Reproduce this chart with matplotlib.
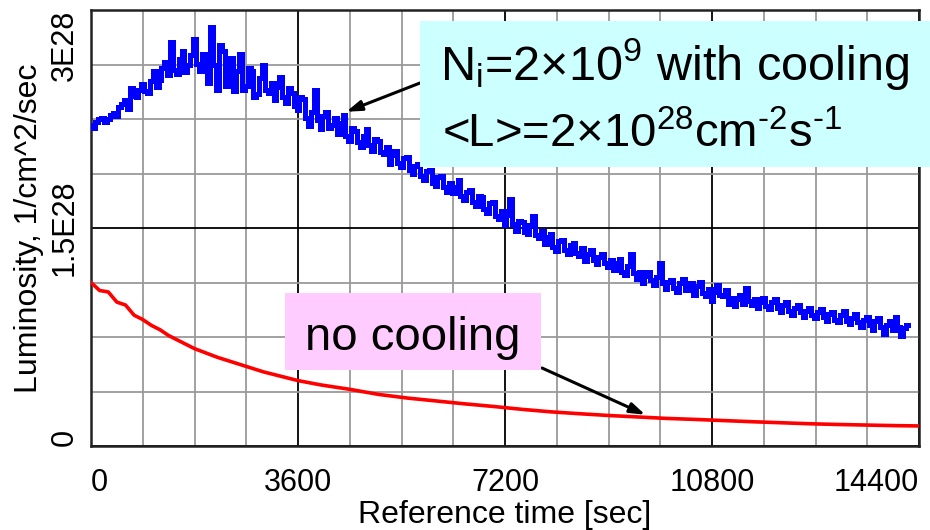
import numpy as np
import matplotlib
matplotlib.use("Agg")
import matplotlib.pyplot as plt
from matplotlib.patches import Rectangle

plt.rcParams['font.family'] = ['Liberation Sans', 'DejaVu Sans']
plt.rcParams['mathtext.fontset'] = 'custom'
plt.rcParams['mathtext.rm'] = 'Liberation Sans'
plt.rcParams['mathtext.it'] = 'Liberation Sans'

# ---- data (luminosity in units of 1E28 cm^-2 s^-1) ----
blue_t0, blue_dt = 0, 50   # sampling of the "with cooling" trace [sec]
blue_v = [
    2.21, 2.19, 2.23, 2.25, 2.26, 2.23, 2.25, 2.28, 2.29, 2.27,
    2.33, 2.35, 2.38, 2.32, 2.46, 2.41, 2.40, 2.45, 2.49, 2.44,
    2.43, 2.51, 2.58, 2.47, 2.52, 2.60, 2.64, 2.55, 2.78, 2.59,
    2.56, 2.66, 2.72, 2.57, 2.62, 2.69, 2.80, 2.63, 2.58, 2.70,
    2.66, 2.50, 2.88, 2.62, 2.45, 2.76, 2.72, 2.48, 2.60, 2.67,
    2.44, 2.58, 2.70, 2.45, 2.48, 2.60, 2.58, 2.40, 2.42, 2.53,
    2.62, 2.45, 2.43, 2.50, 2.38, 2.47, 2.54, 2.40, 2.36, 2.46,
    2.43, 2.34, 2.31, 2.40, 2.39, 2.26, 2.20, 2.30, 2.45, 2.24,
    2.18, 2.27, 2.30, 2.19, 2.21, 2.26, 2.15, 2.22, 2.28, 2.13,
    2.10, 2.19, 2.17, 2.09, 2.06, 2.13, 2.18, 2.07, 2.03, 2.11,
    2.10, 2.02, 2.01, 2.06, 1.94, 2.00, 2.03, 1.95, 1.92, 1.98,
    1.99, 1.90, 1.87, 1.93, 1.94, 1.86, 1.83, 1.89, 1.90, 1.81,
    1.79, 1.85, 1.86, 1.78, 1.75, 1.81, 1.74, 1.78, 1.83, 1.72,
    1.69, 1.75, 1.76, 1.68, 1.65, 1.72, 1.71, 1.63, 1.60, 1.67,
    1.68, 1.58, 1.56, 1.62, 1.52, 1.59, 1.70, 1.53, 1.48, 1.55,
    1.54, 1.47, 1.46, 1.52, 1.58, 1.45, 1.43, 1.48, 1.39, 1.44,
    1.46, 1.37, 1.34, 1.41, 1.42, 1.35, 1.32, 1.38, 1.40, 1.33,
    1.31, 1.36, 1.27, 1.32, 1.35, 1.28, 1.25, 1.30, 1.32, 1.26,
    1.23, 1.28, 1.21, 1.26, 1.29, 1.20, 1.18, 1.24, 1.32, 1.19,
    1.15, 1.20, 1.12, 1.17, 1.20, 1.14, 1.11, 1.16, 1.26, 1.12,
    1.08, 1.13, 1.14, 1.09, 1.06, 1.12, 1.15, 1.07, 1.08, 1.12,
    1.04, 1.10, 1.13, 1.05, 1.03, 1.08, 1.00, 1.06, 1.11, 1.04,
    1.03, 1.07, 0.98, 1.02, 0.96, 1.01, 1.04, 0.98, 1.09, 1.00,
    0.97, 1.01, 0.95, 0.99, 1.02, 0.96, 0.94, 0.99, 1.01, 0.95,
    0.92, 0.97, 0.99, 0.93, 0.90, 0.95, 0.97, 0.92, 0.89, 0.93,
    0.95, 0.90, 0.88, 0.92, 0.94, 0.89, 0.86, 0.91, 0.92, 0.87,
    0.85, 0.90, 0.93, 0.86, 0.84, 0.88, 0.91, 0.85, 0.82, 0.87,
    0.89, 0.83, 0.80, 0.86, 0.88, 0.82, 0.77, 0.83, 0.86, 0.80,
    0.89, 0.82, 0.76, 0.81, 0.83]
blue_t = blue_t0 + blue_dt * np.arange(len(blue_v))

red_t = [0, 150, 300, 450, 600, 750, 900, 1050, 1200, 1350, 1500, 1650, 1800,
         2000, 2200, 2400, 2600, 2800, 3000, 3300, 3600, 4000, 4500, 5000,
         5500, 6000, 6500, 7000, 7500, 8000, 8500, 9000, 9500, 10000, 10500,
         11000, 11500, 12000, 12500, 13000, 13500, 14000, 14400]
red_v = [1.125, 1.07, 1.06, 0.99, 0.97, 0.90, 0.87, 0.83, 0.80, 0.76, 0.73,
         0.70, 0.67, 0.64, 0.61, 0.585, 0.56, 0.535, 0.51, 0.48, 0.45, 0.42,
         0.39, 0.355, 0.33, 0.31, 0.29, 0.272, 0.252, 0.235, 0.222, 0.21,
         0.20, 0.19, 0.183, 0.175, 0.167, 0.16, 0.153, 0.148, 0.144, 0.14,
         0.138]

x_ticks = [0, 3600, 7200, 10800, 14400]
x_ticklabels = ['0', '3600', '7200', '10800', '14400']
y_ticks = [0, 1.5, 3.0]
y_ticklabels = ['0', '1.5E28', '3E28']

# ---- figure ----
W, H = 930, 530
fig = plt.figure(figsize=(W / 100, H / 100), dpi=100)
ax = fig.add_axes([91 / W, 1 - 446 / H, (919 - 91) / W, (446 - 10) / H])

ax.plot(blue_t, blue_v, color='#0000FF', lw=3.6, drawstyle='steps-mid',
        solid_joinstyle='miter', zorder=3)
ax.plot(red_t, red_v, color='#FF0000', lw=2.6, zorder=3)

ax.set_xlim(0, 14400)
ax.set_ylim(0, 3.0)
ax.set_xticks(x_ticks)
ax.set_xticklabels(x_ticklabels)
ax.set_xticks(np.arange(0, 14401, 900), minor=True)
ax.set_yticks(y_ticks)
ax.set_yticklabels(y_ticklabels, rotation=90)
ax.set_yticks(np.arange(0, 3.01, 0.375), minor=True)

ax.tick_params(which='both', length=0)
ax.tick_params(axis='x', labelsize=22, pad=16)
ax.tick_params(axis='y', labelsize=22, pad=8)
xl = ax.get_xticklabels()
xl[0].set_ha('left')
xl[-1].set_ha('right')
yl = ax.get_yticklabels()
yl[0].set_va('bottom')
yl[1].set_va('center')
yl[2].set_va('top')

ax.grid(which='minor', color='#9a9a9a', lw=1.3, zorder=0)
ax.grid(which='major', color='black', lw=1.3, zorder=1)
ax.set_axisbelow(True)
for s in ax.spines.values():
    s.set_linewidth(1.8)
    s.set_color('#222222')

ax.set_xlabel('Reference time [sec]', fontsize=23, labelpad=1)
ax.set_ylabel('Luminosity, 1/cm^2/sec', fontsize=23, labelpad=4)

# ---- annotation boxes ----
def fig_rect(x0, y0, x1, y1, color):
    r = Rectangle((x0 / W, 1 - y1 / H), (x1 - x0) / W, (y1 - y0) / H,
                  transform=fig.transFigure, facecolor=color, edgecolor='none',
                  zorder=5)
    fig.add_artist(r)

fig_rect(420, 21, 930, 167, '#CCFFFF')
fig.text(440 / W, 1 - 80 / H, r'N$_{\mathrm{i}}$=2×10$^{\mathrm{9}}$ with cooling',
         fontsize=35, ha='left', va='baseline', zorder=6)
fig.text(442 / W, 1 - 147 / H,
         r'<L>=2×10$^{\mathrm{28}}$cm$^{\text{-2}}$s$^{\text{-1}}$',
         fontsize=34, ha='left', va='baseline', zorder=6)

fig_rect(285, 293, 541, 370, '#FFCCFF')
fig.text(305 / W, 1 - 350 / H, 'no cooling', fontsize=34, ha='left',
         va='baseline', zorder=6)

arrow_kw = dict(arrowstyle='-|>,head_length=0.9,head_width=0.3', color='black',
                lw=2.2, shrinkA=0, shrinkB=0)
ax.annotate('', xy=(4440, 2.30), xycoords='data',
            xytext=(420, H - 83), textcoords='figure pixels',
            arrowprops=arrow_kw, annotation_clip=False, zorder=4)
ax.annotate('', xy=(9640, 0.215), xycoords='data',
            xytext=(542, H - 368), textcoords='figure pixels',
            arrowprops=arrow_kw, annotation_clip=False, zorder=4)

fig.savefig('out.png', dpi=100, facecolor='white')
